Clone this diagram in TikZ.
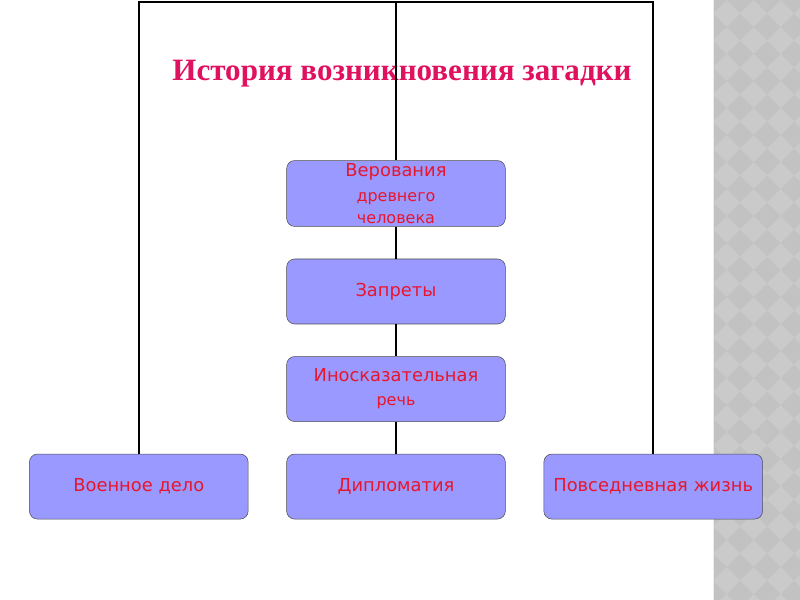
\documentclass[tikz,border=0pt]{standalone}
\usepackage{fontspec}
\setmainfont{Liberation Serif}
\newfontfamily\boxfont{DejaVu Sans}
\usepackage{xcolor}
\usetikzlibrary{positioning}
\definecolor{boxfill}{RGB}{153,153,255}
\definecolor{boxtext}{RGB}{232,22,44}
\definecolor{titlered}{RGB}{224,17,95}
\definecolor{stripdark}{RGB}{194,194,194}
\definecolor{striplight}{RGB}{202,202,202}

\begin{document}
\begin{tikzpicture}[x=0.75pt, y=-0.75pt,
  block/.style={rectangle, draw=black!70, fill=boxfill, rounded corners=6pt,
    minimum width=164pt, minimum height=48.75pt, align=center, text=boxtext,
    font=\boxfont\fontsize{13.4}{16}\selectfont, inner sep=2pt},
  link/.style={black, line width=1.5pt}
]
\useasboundingbox (0,0) rectangle (800,600);
% checkered strip on the right
\fill[stripdark] (713,0) rectangle (800,600);
\begin{scope}
  \clip (714,0) rectangle (800,600);
  \foreach \i in {0,...,4}
    \foreach \j in {0,...,23}
      \fill[striplight] (726.5+27*\i, 13.5+27*\j) +(-13.5,0) -- +(0,-13.5) -- +(13.5,0) -- +(0,13.5) -- cycle;
\end{scope}
\draw[white!85!gray, line width=0.75pt] (713.5,0) -- (713.5,600);

% title
\node[font=\bfseries\fontsize{23.3}{28}\selectfont, text=titlered] (title) at (402,74) {История возникновения загадки};

% boxes
\node[block] (ver) at (396,193.5) {Верования\\[3pt]{\fontsize{12}{14}\selectfont древнего}\\[0.5pt]{\fontsize{12}{14}\selectfont человека}};
\node[block, below=24pt of ver] (zap) {Запреты};
\node[block, below=24pt of zap] (inos) {Иносказательная\\[2pt]{\fontsize{12}{14}\selectfont речь}};
\node[block, below=24pt of inos] (dipl) {Дипломатия};
\node[block, left=28.5pt of dipl] (voen) {Военное дело};
\node[block, right=28.5pt of dipl] (povs) {Повседневная жизнь};

% connectors
\coordinate (root) at (396,1.5);
\draw[link] (voen.north) |- (root) -| (povs.north);
\draw[link] (root) -- (ver);
\draw[link] (ver) -- (zap);
\draw[link] (zap) -- (inos);
\draw[link] (inos) -- (dipl);
\end{tikzpicture}
\end{document}
